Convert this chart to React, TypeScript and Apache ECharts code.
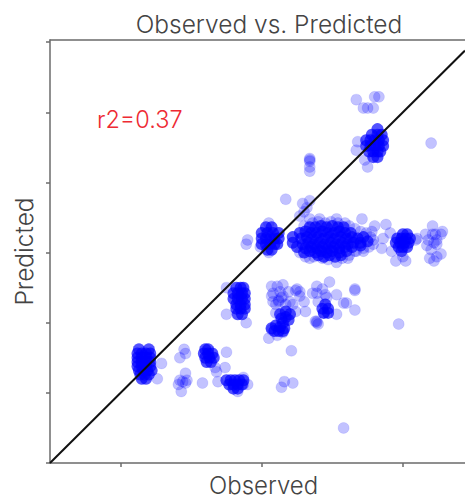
import React, { useEffect, useRef } from "react";
import * as echarts from "echarts";

const xTicks = [1, 2, 3];
const yTicks = [0.5, 1, 1.5, 2, 2.5, 3, 3.5];
const identityLine = [[0.5, 0.5], [3.44, 3.44]];

// Points lying apart from one another: [observed, predicted]
const scatteredTop = [[2.67,3.09],[2.80,3.11],[2.83,3.11],[2.72,3.03],[2.75,3.03],[2.79,3.03],[3.20,2.78],[2.68,2.79],[2.67,2.73],[2.73,2.66],[2.75,2.61],[2.34,2.67],[2.34,2.65],[2.34,2.66],[2.34,2.61],[2.34,2.58],[2.17,2.38],[2.29,2.35],[2.34,2.37],[2.32,2.32],[2.27,2.26],[2.30,2.29]];
const scatteredMiddle = [[1.90,2.09],[1.89,2.06],[2.05,2.21],[2.05,2.00],[1.99,2.04],[2.41,2.24],[2.53,2.24],[2.71,2.24],[2.59,2.21],[2.34,2.24],[2.34,1.96],[2.53,1.93],[2.61,1.96],[2.66,2.01],[2.72,2.01],[2.79,2.06],[2.80,2.19],[2.88,2.20],[2.78,2.15],[2.85,2.03],[2.86,2.10],[2.91,2.14],[2.92,2.01],[2.95,1.94],[3.02,1.94],[3.00,1.97],[3.09,2.09],[3.10,2.10],[3.21,2.13],[3.24,2.09],[3.21,2.19],[3.28,2.15],[3.17,2.05],[3.20,2.02],[3.27,1.99],[3.24,1.97],[3.19,1.96],[3.22,1.94],[3.27,2.13],[3.16,2.13],[3.23,2.13],[3.22,2.07],[3.18,2.09],[3.24,2.06]];
const scatteredMainEdge = [[2.30,2.19],[2.36,2.21],[2.40,2.22],[2.45,2.21],[2.49,2.22],[2.54,2.21],[2.62,2.19],[2.66,2.17],[2.70,2.15],[2.74,2.14],[2.77,2.11],[2.79,2.09],[2.76,2.04],[2.72,2.03],[2.67,2.01],[2.62,1.98],[2.57,1.96],[2.47,1.95],[2.43,1.96],[2.37,1.97],[2.31,1.97],[2.27,2.00]];
const scatteredLowerRight = [[1.75,1.56],[1.89,1.50],[1.75,1.75],[2.07,1.76],[2.11,1.76],[2.15,1.77],[2.08,1.71],[2.13,1.72],[2.19,1.72],[2.08,1.65],[2.12,1.65],[2.12,1.66],[2.14,1.68],[2.20,1.65],[2.22,1.63],[2.17,1.63],[2.24,1.58],[2.10,1.57],[2.25,1.74],[2.27,1.72],[2.30,1.65],[2.27,1.69],[2.31,1.58],[2.07,1.69],[2.10,1.63],[2.15,1.69],[2.24,1.73],[2.05,1.39],[2.07,1.45],[2.15,1.43],[2.11,1.41],[2.21,1.30],[2.48,1.79],[2.39,1.76],[2.36,1.71],[2.39,1.71],[2.43,1.74],[2.45,1.70],[2.53,1.70],[2.66,1.74],[2.66,1.73],[2.40,1.65],[2.46,1.68],[2.53,1.56],[2.60,1.64],[2.58,1.64],[2.66,1.59],[2.39,1.50],[2.38,1.51],[2.40,1.49],[2.39,1.51],[2.44,1.57],[2.97,1.49]];
const scatteredBottom = [[1.45,1.31],[1.46,1.28],[1.42,1.25],[1.29,1.21],[1.26,1.10],[1.46,1.14],[1.42,1.09],[1.41,1.06],[1.47,1.09],[1.46,1.07],[1.43,1.01],[1.44,1.08],[1.58,1.07],[1.67,1.18],[1.68,1.15],[1.74,1.18],[1.75,1.29],[1.69,1.08],[1.83,1.01],[1.87,1.11],[1.87,1.06],[1.90,1.06],[2.14,1.04],[2.16,1.08],[2.22,1.07],[2.58,0.75]];

// Dense clumps, where the marks pile up to solid blue
const clumpLowerLeft = [[1.13,1.31],[1.20,1.31],[1.12,1.28],[1.15,1.28],[1.18,1.28],[1.21,1.28],[1.12,1.25],[1.15,1.25],[1.18,1.25],[1.21,1.25],[1.12,1.22],[1.15,1.22],[1.18,1.22],[1.21,1.22],[1.12,1.19],[1.15,1.19],[1.18,1.19],[1.21,1.19],[1.13,1.16],[1.16,1.16],[1.19,1.16],[1.22,1.16],[1.14,1.13],[1.17,1.13],[1.20,1.13],[1.15,1.10],[1.18,1.10]];
const clumpUpper = [[2.82,2.88],[2.78,2.84],[2.82,2.84],[2.85,2.84],[2.74,2.80],[2.77,2.80],[2.80,2.80],[2.83,2.80],[2.86,2.80],[2.74,2.76],[2.77,2.76],[2.80,2.76],[2.83,2.76],[2.86,2.76],[2.76,2.72],[2.79,2.72],[2.82,2.72],[2.84,2.72],[2.79,2.68],[2.82,2.68]];
const clumpBesideMain = [[2.03,2.18],[2.07,2.18],[2.00,2.14],[2.04,2.14],[2.08,2.14],[2.12,2.14],[2.00,2.10],[2.03,2.10],[2.06,2.10],[2.09,2.10],[2.12,2.10],[2.00,2.06],[2.03,2.06],[2.06,2.06],[2.09,2.06],[2.11,2.06],[2.04,2.02],[2.07,2.02]];
const clumpMain = [[2.34,2.18],[2.38,2.18],[2.42,2.19],[2.46,2.18],[2.50,2.19],[2.54,2.18],[2.58,2.18],[2.27,2.14],[2.31,2.15],[2.35,2.14],[2.39,2.14],[2.43,2.15],[2.47,2.14],[2.51,2.14],[2.55,2.15],[2.59,2.14],[2.63,2.14],[2.22,2.11],[2.28,2.10],[2.32,2.11],[2.36,2.10],[2.40,2.11],[2.44,2.10],[2.48,2.11],[2.52,2.10],[2.56,2.11],[2.60,2.10],[2.64,2.11],[2.68,2.10],[2.72,2.11],[2.22,2.07],[2.29,2.06],[2.33,2.07],[2.37,2.06],[2.41,2.07],[2.45,2.06],[2.49,2.07],[2.53,2.06],[2.57,2.07],[2.61,2.06],[2.65,2.07],[2.70,2.07],[2.75,2.08],[2.25,2.04],[2.31,2.03],[2.35,2.04],[2.39,2.03],[2.43,2.04],[2.47,2.03],[2.51,2.04],[2.55,2.03],[2.59,2.04],[2.64,2.04],[2.70,2.05],[2.30,2.00],[2.34,2.01],[2.38,2.00],[2.42,2.01],[2.46,2.00],[2.50,2.01],[2.55,2.00],[2.60,2.01],[2.40,1.98],[2.44,1.97],[2.48,1.98],[2.52,1.97],[2.56,1.98]];
const clumpRight = [[3.00,2.13],[3.03,2.13],[2.96,2.10],[2.99,2.10],[3.02,2.10],[3.05,2.10],[2.95,2.07],[2.98,2.07],[3.01,2.07],[3.04,2.07],[2.97,2.04],[3.00,2.04],[3.03,2.04],[2.99,2.01]];
const clumpMiddleLeft = [[1.82,1.75],[1.85,1.75],[1.87,1.75],[1.80,1.71],[1.83,1.71],[1.86,1.71],[1.88,1.71],[1.80,1.67],[1.83,1.67],[1.86,1.67],[1.88,1.67],[1.82,1.63],[1.85,1.63],[1.88,1.63],[1.82,1.60],[1.85,1.60],[1.88,1.60],[1.83,1.56],[1.86,1.56]];
const clumpBelowMain = [[2.13,1.56],[2.17,1.58],[2.20,1.56],[2.14,1.53],[2.17,1.54],[2.19,1.52],[2.15,1.50],[2.07,1.46],[2.10,1.48],[2.13,1.47],[2.16,1.46],[2.09,1.44],[2.12,1.44],[2.15,1.44],[2.43,1.60],[2.45,1.63],[2.47,1.60],[2.44,1.57],[2.47,1.57]];
const clumpSmall = [[1.60,1.31],[1.62,1.31],[1.59,1.28],[1.62,1.28],[1.65,1.28],[1.60,1.25],[1.63,1.25],[1.66,1.25],[1.61,1.22],[1.64,1.22]];
const clumpBottom = [[1.75,1.09],[1.78,1.09],[1.81,1.09],[1.84,1.09],[1.87,1.09],[1.77,1.06],[1.80,1.06],[1.83,1.06],[1.86,1.06],[1.80,1.03],[1.83,1.03]];

const scattered = [...scatteredTop, ...scatteredMiddle, ...scatteredMainEdge, ...scatteredLowerRight, ...scatteredBottom];
const clumps = [...clumpLowerLeft, ...clumpUpper, ...clumpBesideMain, ...clumpMain, ...clumpRight, ...clumpMiddleLeft, ...clumpBelowMain, ...clumpSmall, ...clumpBottom];

const FONT = 'Inter, "Noto Sans", sans-serif';
const INK = "#444444";
const SPINE = "#6b6b6b";

export default function App() {
  const ref = useRef<HTMLDivElement>(null);
  useEffect(() => {
    document.body.style.margin = "0";
    const chart = echarts.init(ref.current!, undefined, { renderer: "svg" });
    const lineStyle = { color: SPINE, width: 1.5 };
    chart.setOption({
      animation: false,
      backgroundColor: "#ffffff",
      title: {
        text: "Observed vs. Predicted",
        left: 264,
        top: 6,
        textAlign: "center",
        textStyle: { fontFamily: FONT, fontSize: 24.5, fontWeight: 300, color: INK },
      },
      grid: { left: 50, right: 0, top: 40, bottom: 34, outerBoundsMode: "none" },
      graphic: [
        {
          type: "text", left: 97, top: 107,
          style: { text: "r2=0.37", fontFamily: FONT, fontSize: 23.5, fontWeight: 300, fill: "#ee2a33" },
        },
        {
          type: "text", left: 209, top: 473,
          style: { text: "Observed", fontFamily: FONT, fontSize: 24, lineHeight: 23, fontWeight: 300, fill: INK },
        },
      ],
      xAxis: [
        {
          type: "value", min: 0.5, max: 3.44, position: "bottom",
          axisLine: { show: true, onZero: false, lineStyle },
          axisTick: { show: true, length: 4, lineStyle, customValues: xTicks },
          axisLabel: { show: false },
          splitLine: { show: false },
        },
        {
          type: "value", min: 0.5, max: 3.44, position: "top",
          axisLine: { show: true, onZero: false, lineStyle },
          axisTick: { show: false },
          axisLabel: { show: false },
          splitLine: { show: false },
        },
      ],
      yAxis: {
        type: "value", min: 0.5, max: 3.515,
        name: "Predicted", nameLocation: "middle", nameGap: 14,
        nameTextStyle: { fontFamily: FONT, fontSize: 24.5, fontWeight: 300, color: INK },
        axisLine: { show: true, onZero: false, lineStyle },
        axisTick: { show: true, length: 4, lineStyle, customValues: yTicks },
        axisLabel: { show: false },
        splitLine: { show: false },
      },
      series: [
        {
          type: "scatter", name: "scattered", data: scattered, symbolSize: 11, clip: true,
          itemStyle: { color: "rgba(0,0,255,0.3)", borderColor: "rgba(0,0,255,0.12)", borderWidth: 1 },
        },
        {
          type: "scatter", name: "clumps", data: clumps, symbolSize: 12, clip: true,
          itemStyle: { color: "rgba(0,0,255,0.85)" },
        },
        {
          type: "line", name: "identity", data: identityLine, showSymbol: false, silent: true,
          lineStyle: { color: "#111111", width: 2 }, z: 5,
        },
      ],
    });
    return () => chart.dispose();
  }, []);
  return <div ref={ref} style={{ width: 465, height: 497 }} />;
}
